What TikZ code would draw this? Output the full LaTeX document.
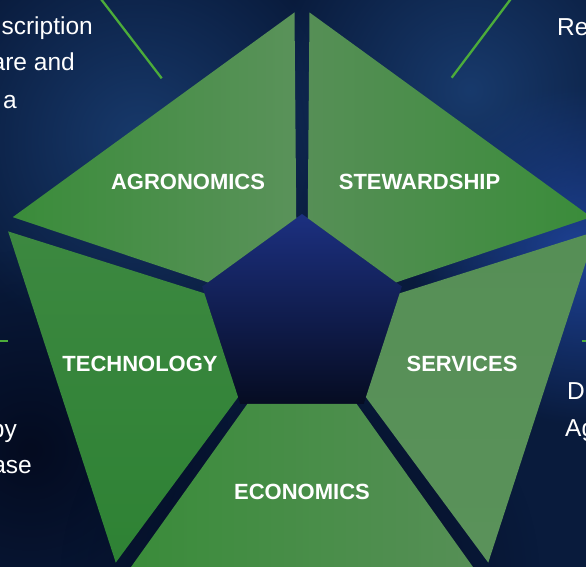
\documentclass[tikz,border=0pt]{standalone}
\usepackage{fontspec}
\setmainfont{Liberation Sans}
\usetikzlibrary{calc,fadings}
\definecolor{bgbase}{RGB}{9,27,60}
\definecolor{bgblue}{RGB}{30,66,150}
\definecolor{bgmid}{RGB}{24,58,108}
\definecolor{bgdark}{RGB}{4,11,32}
\definecolor{leadgreen}{RGB}{76,172,58}
\definecolor{coretop}{RGB}{28,48,128}
\definecolor{corebot}{RGB}{6,12,34}
\definecolor{gA}{RGB}{58,140,58}
\definecolor{gB}{RGB}{90,146,90}
\definecolor{gC}{RGB}{60,136,64}
\definecolor{gD}{RGB}{46,130,52}
\definecolor{gE}{RGB}{86,143,86}
\tikzfading[name=glowfade, inner color=transparent!0, outer color=transparent!100]
\begin{document}
\begin{tikzpicture}[x=1pt,y=-1pt,
  lbl/.style={font=\fontsize{22}{26}\selectfont\bfseries, text=white, inner sep=0pt},
  side/.style={font=\fontsize{24.5}{29}\selectfont, text=white, inner sep=0pt},
  lead/.style={draw=leadgreen, line width=2.3pt},
  glow/.style={path fading=glowfade}]
\useasboundingbox (0,0) rectangle (586,567);
\clip (0,0) rectangle (586,567);
% background
\fill[bgbase] (0,0) rectangle (586,567);
\fill[bgmid, glow] (470,90) circle (200pt);
\fill[bgmid, glow] (140,140) circle (210pt);
\fill[bgblue, glow] (580,255) circle (170pt);
\fill[bgdark, glow] (30,450) circle (200pt);
\fill[bgdark, glow] (300,580) circle (240pt);
% geometry
\coordinate (C) at (302,319);
\foreach \i/\a in {0/270,1/198,2/126,3/54,4/342}{
  \coordinate (O\i) at ($(C)+(\a:312)$);
  \coordinate (I\i) at ($(C)+(\a:105)$);
}
% core
\shade[top color=coretop, bottom color=corebot] (I0) -- (I1) -- (I2) -- (I3) -- (I4) -- cycle;
% pieces
\shade[left color=gA, right color=gB]
  ($(O0)!9.27pt!(O1)$) -- ($(O1)!9.27pt!(O0)$) -- ($(I1)!7.1pt!(I0)$) -- ($(I0)!7.1pt!(I1)$) -- cycle;
\shade[top color=gC, bottom color=gD]
  ($(O1)!9.27pt!(O2)$) -- ($(O2)!9.27pt!(O1)$) -- ($(I2)!7.1pt!(I1)$) -- ($(I1)!7.1pt!(I2)$) -- cycle;
\shade[left color=gA, right color=gE]
  ($(O2)!9.27pt!(O3)$) -- ($(O3)!9.27pt!(O2)$) -- ($(I3)!7.1pt!(I2)$) -- ($(I2)!7.1pt!(I3)$) -- cycle;
\shade[top color=gE, bottom color=gB]
  ($(O3)!9.27pt!(O4)$) -- ($(O4)!9.27pt!(O3)$) -- ($(I4)!7.1pt!(I3)$) -- ($(I3)!7.1pt!(I4)$) -- cycle;
\shade[left color=gE, right color=gA]
  ($(O4)!9.27pt!(O0)$) -- ($(O0)!9.27pt!(O4)$) -- ($(I0)!7.1pt!(I4)$) -- ($(I4)!7.1pt!(I0)$) -- cycle;
% labels
\node[lbl] (agro) at (188,181.5) {AGRONOMICS};
\node[lbl] (stew) at (419.5,181.5) {STEWARDSHIP};
\node[lbl] (tech) at (140,364) {TECHNOLOGY};
\node[lbl] (serv) at (462,364) {SERVICES};
\node[lbl] (econ) at (302,492) {ECONOMICS};
% side texts
\node[side, anchor=base east] (t1) at (93,35) {scription};
\node[side, anchor=base east] (t2) at (75,71) {are and};
\node[side, anchor=base east] (t3) at (17,109) {a};
\node[side, anchor=base west] (t4) at (557,36) {Re};
\node[side, anchor=base west] (t5) at (567,399) {D};
\node[side, anchor=base west] (t6) at (565,436) {Ag};
\node[side, anchor=base east] (t7) at (17,437) {by};
\node[side, anchor=base east] (t8) at (32,473) {ase};
% green leader lines
\coordinate (tlA) at (99.4,-3);
\coordinate (tlB) at (161.7,78.3);
\coordinate (trA) at (512.3,-3);
\coordinate (trB) at (451.7,77.7);
\coordinate (ltA) at (-3,341);
\coordinate (ltB) at (8,341);
\coordinate (rtA) at (581.7,341);
\coordinate (rtB) at (590,341);
\draw[lead] (tlA) -- (tlB);
\draw[lead] (trA) -- (trB);
\draw[lead] (ltA) -- (ltB);
\draw[lead] (rtA) -- (rtB);
\end{tikzpicture}
\end{document}
